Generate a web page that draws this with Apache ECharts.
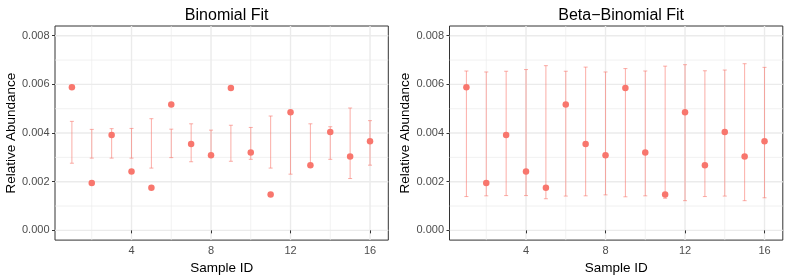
<!DOCTYPE html>
<html>
<head>
<meta charset="utf-8">
<script src="https://cdn.jsdelivr.net/npm/echarts@6/dist/echarts.min.js"></script>
<style>
html,body{margin:0;padding:0;background:#fff;}
#chart{width:789px;height:280px;}
</style>
</head>
<body>
<div id="chart"></div>
<script>
// ---- data ----
const sampleId = [1,2,3,4,5,6,7,8,9,10,11,12,13,14,15,16];
const relAbund = [0.00588,0.00195,0.00392,0.00242,0.00175,0.00517,0.00355,0.00309,0.00585,0.00320,0.00147,0.00486,0.00268,0.00404,0.00304,0.00366];
const binomLow  = [0.00276,0.00297,0.00297,0.00297,0.00256,0.00299,0.00282,0.00310,0.00284,0.00292,0.00256,0.00231,0.00272,0.00292,0.00213,0.00268];
const binomHigh = [0.00448,0.00415,0.00418,0.00419,0.00459,0.00416,0.00438,0.00412,0.00432,0.00423,0.00470,0.00480,0.00438,0.00426,0.00503,0.00451];
const betaLow  = [0.00139,0.00142,0.00143,0.00143,0.00130,0.00141,0.00142,0.00146,0.00138,0.00142,0.00132,0.00122,0.00139,0.00141,0.00122,0.00134];
const betaHigh = [0.00655,0.00651,0.00654,0.00661,0.00677,0.00654,0.00671,0.00651,0.00665,0.00655,0.00675,0.00681,0.00656,0.00659,0.00685,0.00670];
const xMajorTicks = [4,8,12,16];
const xMinorTicks = [2,6,10,14];
const yMajorTicks = [0,0.002,0.004,0.006,0.008];
const yMinorTicks = [0.001,0.003,0.005,0.007];
const titles = ['Binomial Fit','Beta\u2212Binomial Fit'];

// ---- style ----
const FONT = 'Liberation Sans, Arial, sans-serif';
const PT = '#F8766D';
const BAR = 'rgba(248,118,109,0.6)';
const GRIDC = '#EBEBEB';
const X_MIN = 0.15, X_MAX = 16.92, Y_MIN = -0.0004, Y_MAX = 0.0084;
const panels = [{left:55},{left:449.5}];
const PW = 333.3, PTOP = 26, PH = 217.3;

const chart = echarts.init(document.getElementById('chart'), null, {renderer:'canvas'});

const gridData = [];
xMinorTicks.forEach(v=>gridData.push([v,0,0]));
yMinorTicks.forEach(v=>gridData.push([v,1,0]));
xMajorTicks.forEach(v=>gridData.push([v,0,1]));
yMajorTicks.forEach(v=>gridData.push([v,1,1]));

function gridRender(params, api){
  const v = api.value(0), orient = api.value(1), major = api.value(2);
  const cs = params.coordSys;
  let shape;
  if(orient===0){
    const p = api.coord([v, 0]);
    shape = {x1:p[0], y1:cs.y, x2:p[0], y2:cs.y+cs.height};
  } else {
    const p = api.coord([1, v]);
    shape = {x1:cs.x, y1:p[1], x2:cs.x+cs.width, y2:p[1]};
  }
  return {type:'line', shape, style:{stroke:GRIDC, lineWidth: major?1.4:0.7}};
}
function barRender(params, api){
  const x = api.value(0), lo = api.value(1), hi = api.value(2);
  const a = api.coord([x, lo]), b = api.coord([x, hi]);
  const hw = 2;
  const st = {stroke:BAR, lineWidth:1};
  return {type:'group', children:[
    {type:'line', shape:{x1:a[0],y1:a[1],x2:b[0],y2:b[1]}, style:st},
    {type:'line', shape:{x1:a[0]-hw,y1:a[1],x2:a[0]+hw,y2:a[1]}, style:st},
    {type:'line', shape:{x1:b[0]-hw,y1:b[1],x2:b[0]+hw,y2:b[1]}, style:st}
  ]};
}

const grids=[], xAxes=[], yAxes=[], series=[], titleArr=[];
const lows=[binomLow, betaLow], highs=[binomHigh, betaHigh];
panels.forEach((p,i)=>{
  grids.push({left:p.left, top:PTOP, width:PW, height:PH, show:true, borderColor:'#333', borderWidth:1, backgroundColor:'transparent'});
  titleArr.push({text:titles[i], left:p.left+PW/2, top:3, textAlign:'center',
    textStyle:{fontFamily:FONT, fontSize:16, fontWeight:'normal', color:'#000'}});
  xAxes.push({type:'value', gridIndex:i, min:X_MIN, max:X_MAX,
    name:'Sample ID', nameLocation:'middle', nameGap:17,
    nameTextStyle:{fontFamily:FONT, fontSize:13.5, color:'#000'},
    axisLine:{show:false},
    axisTick:{show:true, length:3, lineStyle:{color:'#333'}, customValues:xMajorTicks},
    axisLabel:{fontFamily:FONT, fontSize:11, color:'#4D4D4D', margin:5, customValues:xMajorTicks},
    splitLine:{show:false}});
  yAxes.push({type:'value', gridIndex:i, min:Y_MIN, max:Y_MAX,
    name:'Relative Abundance', nameLocation:'middle', nameGap:37, nameRotate:90,
    nameTextStyle:{fontFamily:FONT, fontSize:13.5, color:'#000'},
    axisLine:{show:false},
    axisTick:{show:true, length:3, lineStyle:{color:'#333'}, customValues:yMajorTicks},
    axisLabel:{fontFamily:FONT, fontSize:11, color:'#4D4D4D', margin:5.5, customValues:yMajorTicks,
      formatter:v=>v.toFixed(3)},
    splitLine:{show:false}});
  series.push({type:'custom', xAxisIndex:i, yAxisIndex:i, z:0, silent:true, renderItem:gridRender, data:gridData, clip:false});
  series.push({type:'custom', xAxisIndex:i, yAxisIndex:i, z:2, silent:true, renderItem:barRender,
    data: sampleId.map((s,k)=>[s, lows[i][k], highs[i][k]])});
  series.push({type:'scatter', xAxisIndex:i, yAxisIndex:i, z:3, symbol:'circle', symbolSize:6.5,
    itemStyle:{color:PT, opacity:1}, data: sampleId.map((s,k)=>[s, relAbund[k]])});
});

chart.setOption({animation:false, backgroundColor:'#fff', title:titleArr, grid:grids, xAxis:xAxes, yAxis:yAxes, series});
</script>
</body>
</html>
